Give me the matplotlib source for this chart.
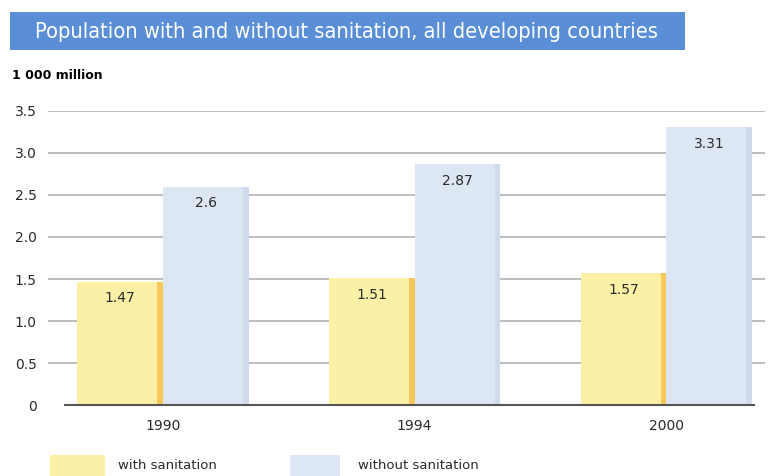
import matplotlib.pyplot as plt
from matplotlib.patches import Rectangle

# population in 1 000 million
years = ['1990', '1994', '2000']
with_sanitation = [1.47, 1.51, 1.57]
without_sanitation = [2.6, 2.87, 3.31]
yticks = [0, 0.5, 1.0, 1.5, 2.0, 2.5, 3.0, 3.5]
ytick_labels = ['0', '0.5', '1.0', '1.5', '2.0', '2.5', '3.0', '3.5']

yellow = '#fbf0a6'
yellow_edge = '#f8c95a'
blue = '#dde7f3'
blue_edge = '#cfdaec'

fig = plt.figure(figsize=(7.7, 4.76), dpi=100)
fig.patch.set_facecolor('white')

# title banner
fig.patches.append(Rectangle((0.013, 0.895), 0.877, 0.08, transform=fig.transFigure,
                             facecolor='#5a8ed6', edgecolor='none'))
fig.text(0.045, 0.933, 'Population with and without sanitation, all developing countries',
         color='white', fontsize=15.7, va='center', ha='left', fontstretch='condensed')
fig.text(0.015, 0.842, '1 000 million', fontsize=9, fontweight='bold', va='center')

ax = fig.add_axes([0.062, 0.149, 0.932, 0.618])
x = list(range(len(years)))
w = 0.34
edge_w = 0.022

for i in x:
    ax.bar(i - w / 2, with_sanitation[i], width=w, color=yellow, zorder=3)
    ax.bar(i - edge_w / 2, with_sanitation[i], width=edge_w, color=yellow_edge, zorder=3)
    ax.bar(i + w / 2, without_sanitation[i], width=w, color=blue, zorder=3)
    ax.bar(i + w - edge_w / 2, without_sanitation[i], width=edge_w, color=blue_edge, zorder=3)
    ax.text(i - w / 2, with_sanitation[i] - 0.2, f'{with_sanitation[i]:g}',
            ha='center', va='center', fontsize=10, color='#2a2a2a', zorder=4)
    ax.text(i + w / 2, without_sanitation[i] - 0.2, f'{without_sanitation[i]:g}',
            ha='center', va='center', fontsize=10, color='#2a2a2a', zorder=4)

for y in yticks[1:]:
    ax.axhline(y, color='#b8b8b8', linewidth=1.3, zorder=1)
ax.plot([-0.39, 2.35], [0, 0], color='#555555', linewidth=1.5, zorder=4, clip_on=False)

ax.set_xlim(-0.458, 2.394)
ax.set_ylim(0, 3.5)
ax.set_yticks(yticks)
ax.set_yticklabels(ytick_labels, fontsize=10, color='#2a2a2a')
ax.set_xticks(x)
ax.set_xticklabels(years, fontsize=10, color='#2a2a2a')
ax.tick_params(length=0, pad=10)
ax.tick_params(axis='y', pad=8)
for s in ax.spines.values():
    s.set_visible(False)

# legend swatches
fig.patches.append(Rectangle((0.065, 0.0), 0.072, 0.045, transform=fig.transFigure,
                             facecolor=yellow, edgecolor='none'))
fig.text(0.153, 0.022, 'with sanitation', fontsize=9.5, va='center', color='#2a2a2a')
fig.patches.append(Rectangle((0.377, 0.0), 0.065, 0.045, transform=fig.transFigure,
                             facecolor=blue, edgecolor='none'))
fig.text(0.465, 0.022, 'without sanitation', fontsize=9.5, va='center', color='#2a2a2a')

fig.savefig('out.png', dpi=100)
